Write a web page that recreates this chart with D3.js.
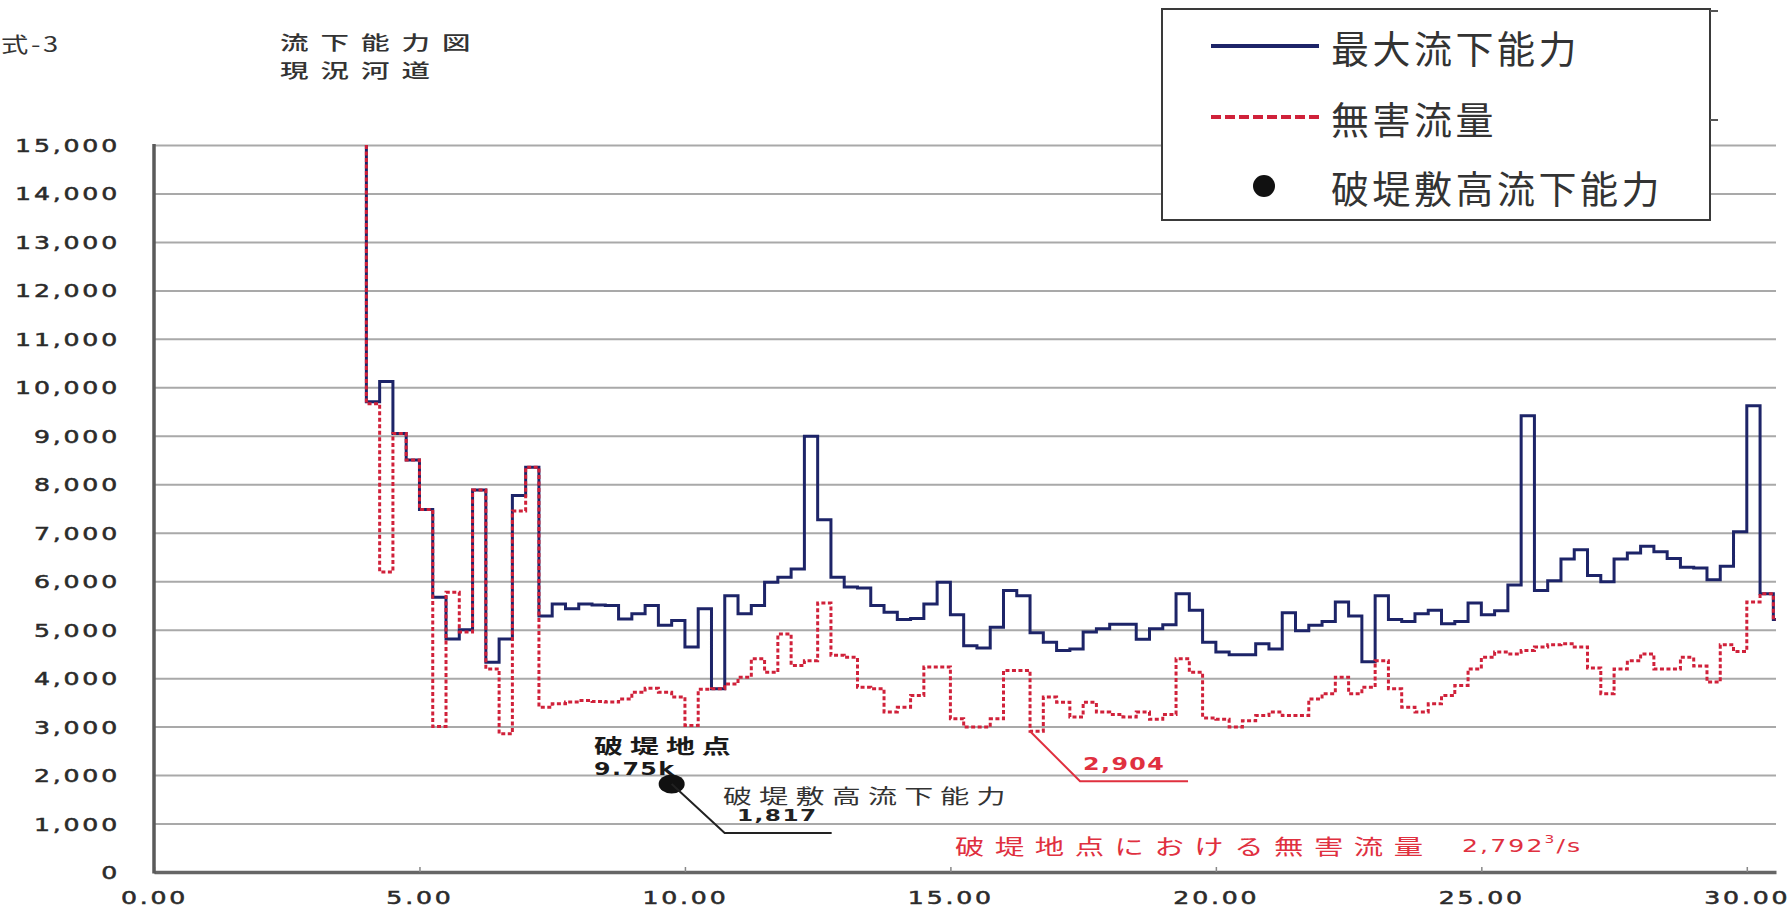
<!DOCTYPE html>
<html>
<head>
<meta charset="utf-8">
<script src="https://cdn.jsdelivr.net/npm/d3@7"></script>
<style>
  body { margin: 0; background: #fff; }
  svg { display: block; }
</style>
</head>
<body>
<svg id="chart"></svg>
<script>
// Section starts (km); first entry repeats 4.00 so the line drops in from the top
const kmStart = [
    4.00, 4.00, 4.25, 4.50, 4.75,
    5.00, 5.25, 5.50, 5.75,
    6.00, 6.25, 6.50, 6.75,
    7.00, 7.25, 7.50, 7.75,
    8.00, 8.25, 8.50, 8.75,
    9.00, 9.25, 9.50, 9.75,
    10.00, 10.25, 10.50, 10.75,
    11.00, 11.25, 11.50, 11.75,
    12.00, 12.25, 12.50, 12.75,
    13.00, 13.25, 13.50, 13.75,
    14.00, 14.25, 14.50, 14.75,
    15.00, 15.25, 15.50, 15.75,
    16.00, 16.25, 16.50, 16.75,
    17.00, 17.25, 17.50, 17.75,
    18.00, 18.25, 18.50, 18.75,
    19.00, 19.25, 19.50, 19.75,
    20.00, 20.25, 20.50, 20.75,
    21.00, 21.25, 21.50, 21.75,
    22.00, 22.25, 22.50, 22.75,
    23.00, 23.25, 23.50, 23.75,
    24.00, 24.25, 24.50, 24.75,
    25.00, 25.25, 25.50, 25.75,
    26.00, 26.25, 26.50, 26.75,
    27.00, 27.25, 27.50, 27.75,
    28.00, 28.25, 28.50, 28.75,
    29.00, 29.25, 29.50, 29.75,
    30.00, 30.25, 30.50
]
const kmLast = 30.75

// 最大流下能力 (m3/s)
const maxFlow = [
    15000, 9700, 10120, 9050, 8500,
    7480, 5670, 4810, 5000,
    7880, 4330, 4810, 7770,
    8350, 5280, 5530, 5430,
    5530, 5510, 5500, 5220,
    5330, 5500, 5090, 5190,
    4640, 5430, 3780, 5700,
    5330, 5500, 5980, 6080,
    6250, 8990, 7270, 6080,
    5880, 5860, 5500, 5360,
    5210, 5230, 5530, 5980,
    5310, 4670, 4620, 5050,
    5810, 5700, 4935, 4740,
    4570, 4600, 4950, 5020,
    5110, 5110, 4800, 5020,
    5100, 5740, 5400, 4740,
    4540, 4480, 4480, 4710,
    4600, 5350, 4980, 5090,
    5170, 5570, 5280, 4340,
    5700, 5210, 5170, 5330,
    5400, 5120, 5170, 5550,
    5310, 5390, 5920, 9415,
    5810, 6010, 6460, 6650,
    6120, 5990, 6460, 6580,
    6720, 6610, 6470, 6290,
    6270, 6030, 6310, 7020,
    9620, 5740, 5210
]

// 無害流量 (m3/s)
const harmlessFlow = [
    15000, 9660, 6190, 9050, 8500,
    7480, 3000, 5770, 4950,
    7880, 4190, 2850, 7450,
    8350, 3400, 3470, 3505,
    3540, 3520, 3505, 3570,
    3710, 3790, 3710, 3610,
    3025, 3770, 3780, 3880,
    4020, 4400, 4120, 4910,
    4260, 4360, 5550, 4470,
    4430, 3810, 3780, 3300,
    3400, 3640, 4230, 4230,
    3160, 2990, 2990, 3160,
    4160, 4160, 2904, 3610,
    3500, 3200, 3500, 3300,
    3250, 3200, 3300, 3150,
    3250, 4400, 4120, 3180,
    3150, 2990, 3120, 3230,
    3300, 3230, 3230, 3570,
    3680, 4020, 3680, 3810,
    4360, 3780, 3400, 3300,
    3470, 3640, 3850, 4190,
    4430, 4540, 4500, 4570,
    4640, 4690, 4710, 4640,
    4210, 3680, 4190, 4360,
    4500, 4190, 4190, 4430,
    4250, 3920, 4690, 4550,
    5570, 5740, 5210
]

// 破堤地点
const breachKm = 9.75
const breachCapacity = 1817
const minHarmlessKm = 16.5
const minHarmless = 2904

const yTicks = [0, 1000, 2000, 3000, 4000, 5000, 6000, 7000, 8000, 9000, 10000, 11000, 12000, 13000, 14000, 15000]
const xTicks = [0, 5, 10, 15, 20, 25, 30]

const legendItems = ["最大流下能力", "無害流量", "破堤敷高流下能力"]

const width = 1791
const height = 911
const plotLeft = 154
const plotRight = 1776
const plotTop = 145
const plotBottom = 872

const navy = "#1d2468"
const crimson = "#d0213a"
const textGray = "#2b2b2b"
const jp = "'Noto Sans CJK JP', sans-serif"
const num = "'DejaVu Sans', sans-serif"

const svg = d3.select("#chart")
    .attr("width", width)
    .attr("height", height)

svg.append("rect").attr("width", width).attr("height", height).attr("fill", "#fff")

const x = d3.scaleLinear().domain([0, 30.55]).range([plotLeft, plotRight])
const y = d3.scaleLinear().domain([0, 15000]).range([plotBottom, plotTop])

// horizontally stretched text, the original glyphs are wide
function wideText(parent, str, px, py, o) {
    const g = parent.append("g").attr("transform", `translate(${px},${py}) scale(${o.sx},1)`)
    return g.append("text")
        .attr("font-family", o.family || jp)
        .attr("font-size", o.size)
        .attr("font-weight", o.weight || "normal")
        .attr("fill", o.fill || textGray)
        .attr("letter-spacing", o.ls || 0)
        .attr("text-anchor", o.anchor || "start")
        .attr("dominant-baseline", "central")
        .text(str)
}

// gridlines + y labels
const yAxis = svg.append("g")
    .attr("transform", `translate(${plotLeft},0)`)
    .call(d3.axisLeft(y).tickValues(yTicks).tickSize(-(plotRight - plotLeft)).tickFormat(d3.format(",")))
yAxis.select(".domain").remove()
yAxis.selectAll(".tick line").attr("stroke", "#a9a9a9").attr("stroke-width", 2)
yAxis.selectAll(".tick text")
    .attr("x", 0)
    .attr("dy", "0.36em")
    .attr("transform", "translate(-34,0) scale(1.4,1)")
    .attr("font-family", num)
    .attr("font-size", 18)
    .attr("letter-spacing", 2)
    .attr("fill", textGray)
    .attr("stroke", textGray)
    .attr("stroke-width", 0.5)
    .attr("text-anchor", "end")

// x axis
const xAxis = svg.append("g")
    .attr("transform", `translate(0,${plotBottom})`)
    .call(d3.axisBottom(x).tickValues(xTicks).tickSize(-5).tickSizeOuter(0).tickFormat(d3.format(".2f")))
xAxis.select(".domain").attr("stroke", "#666").attr("stroke-width", 3.5)
xAxis.selectAll(".tick line").attr("stroke", "#888").attr("stroke-width", 1.5)
xAxis.selectAll(".tick text")
    .attr("y", 0)
    .attr("dy", "0.36em")
    .attr("transform", "translate(0,26) scale(1.4,1)")
    .attr("font-family", num)
    .attr("font-size", 18)
    .attr("letter-spacing", 2)
    .attr("fill", textGray)
    .attr("stroke", textGray)
    .attr("stroke-width", 0.5)

// y axis line
svg.append("line")
    .attr("x1", plotLeft).attr("x2", plotLeft)
    .attr("y1", y(15000) - 1).attr("y2", plotBottom + 1.5)
    .attr("stroke", "#5a5a5a").attr("stroke-width", 3.5)

// step lines
svg.append("clipPath").attr("id", "plot-clip")
    .append("rect").attr("x", plotLeft).attr("y", plotTop - 3).attr("width", plotRight - plotLeft).attr("height", plotBottom - plotTop + 3)

function stepPoints(values) {
    const pts = kmStart.map((k, i) => [k, values[i]])
    pts.push([kmLast, values[values.length - 1]])
    return pts
}

const stepLine = d3.line()
    .x((d) => x(d[0]))
    .y((d) => y(d[1]))
    .curve(d3.curveStepAfter)

const plot = svg.append("g").attr("clip-path", "url(#plot-clip)")

plot.append("path")
    .attr("d", stepLine(stepPoints(maxFlow)))
    .attr("fill", "none")
    .attr("stroke", navy)
    .attr("stroke-width", 3)

plot.append("path")
    .attr("d", stepLine(stepPoints(harmlessFlow)))
    .attr("fill", "none")
    .attr("stroke", crimson)
    .attr("stroke-width", 3)
    .attr("stroke-dasharray", "4,2.5")

// breach point
const bx = x(breachKm)
const by = y(breachCapacity)
svg.append("ellipse")
    .attr("cx", bx).attr("cy", by)
    .attr("rx", 13).attr("ry", 9.5)
    .attr("fill", "#111")

svg.append("polyline")
    .attr("points", `${bx},${by} ${bx + 53},${by + 49} ${bx + 160},${by + 49}`)
    .attr("fill", "none").attr("stroke", "#222").attr("stroke-width", 2)

wideText(svg, "破堤地点", 594, 745, { size: 20, sx: 1.45, ls: 4.8, weight: 700, fill: "#1a1a1a" })
wideText(svg, "9.75k", 594, 769, { family: num, size: 17, sx: 1.4, ls: 1, weight: 700, fill: "#1a1a1a" })
wideText(svg, "破堤敷高流下能力", 723, 795, { size: 20, sx: 1.45, ls: 5, fill: "#333" })
wideText(svg, "1,817", 737, 816, { family: num, size: 16, sx: 1.45, ls: 1, weight: 700, fill: "#222" })

// minimum harmless flow marker
const mx = x(minHarmlessKm)
const my = y(minHarmless)
svg.append("polyline")
    .attr("points", `${mx},${my} ${mx + 50},${my + 50} ${mx + 158},${my + 50}`)
    .attr("fill", "none").attr("stroke", "#e0303f").attr("stroke-width", 2)
wideText(svg, "2,904", 1083, 764, { family: num, size: 17, sx: 1.4, ls: 1, weight: 700, fill: "#e0303f" })

wideText(svg, "破堤地点における無害流量", 955, 845, { size: 21, sx: 1.4, ls: 7.5, fill: "#e0303f" })
const rt = wideText(svg, "", 1462, 845, { family: num, size: 18, sx: 1.4, ls: 1.5, fill: "#e0303f" })
rt.append("tspan").text("2,792")
rt.append("tspan").attr("font-size", 11).attr("dy", -6).text("3")
rt.append("tspan").attr("dy", 6).text("/s")

// titles
wideText(svg, "式-3", 1, 43, { family: jp, size: 21, sx: 1.3, ls: 2, fill: "#333" })
wideText(svg, "流下能力図", 280, 42, { size: 19, sx: 1.5, ls: 8, weight: 500, fill: "#333" })
wideText(svg, "現況河道", 280, 70, { size: 19, sx: 1.5, ls: 8, weight: 500, fill: "#333" })

// legend
const legend = svg.append("g")
legend.append("rect")
    .attr("x", 1162).attr("y", 9).attr("width", 548).attr("height", 211)
    .attr("fill", "#fff").attr("stroke", "#3a3a3a").attr("stroke-width", 2)
legend.append("line").attr("x1", 1710).attr("x2", 1718).attr("y1", 11).attr("y2", 11).attr("stroke", "#555").attr("stroke-width", 2)
legend.append("line").attr("x1", 1710).attr("x2", 1718).attr("y1", 120).attr("y2", 120).attr("stroke", "#555").attr("stroke-width", 2)

const rowY = [46, 117, 186]
legend.append("line")
    .attr("x1", 1211).attr("x2", 1319).attr("y1", rowY[0]).attr("y2", rowY[0])
    .attr("stroke", navy).attr("stroke-width", 4)
legend.append("line")
    .attr("x1", 1211).attr("x2", 1319).attr("y1", rowY[1]).attr("y2", rowY[1])
    .attr("stroke", crimson).attr("stroke-width", 4).attr("stroke-dasharray", "10,4")
legend.append("circle")
    .attr("cx", 1264).attr("cy", rowY[2]).attr("r", 11)
    .attr("fill", "#111")

legend.selectAll("text.item")
    .data(legendItems)
    .join("text")
    .attr("class", "item")
    .attr("x", 1331)
    .attr("y", (d, i) => rowY[i])
    .attr("dominant-baseline", "central")
    .attr("font-family", jp)
    .attr("font-size", 38)
    .attr("letter-spacing", 3.5)
    .attr("fill", "#333")
    .text((d) => d)
</script>
</body>
</html>
